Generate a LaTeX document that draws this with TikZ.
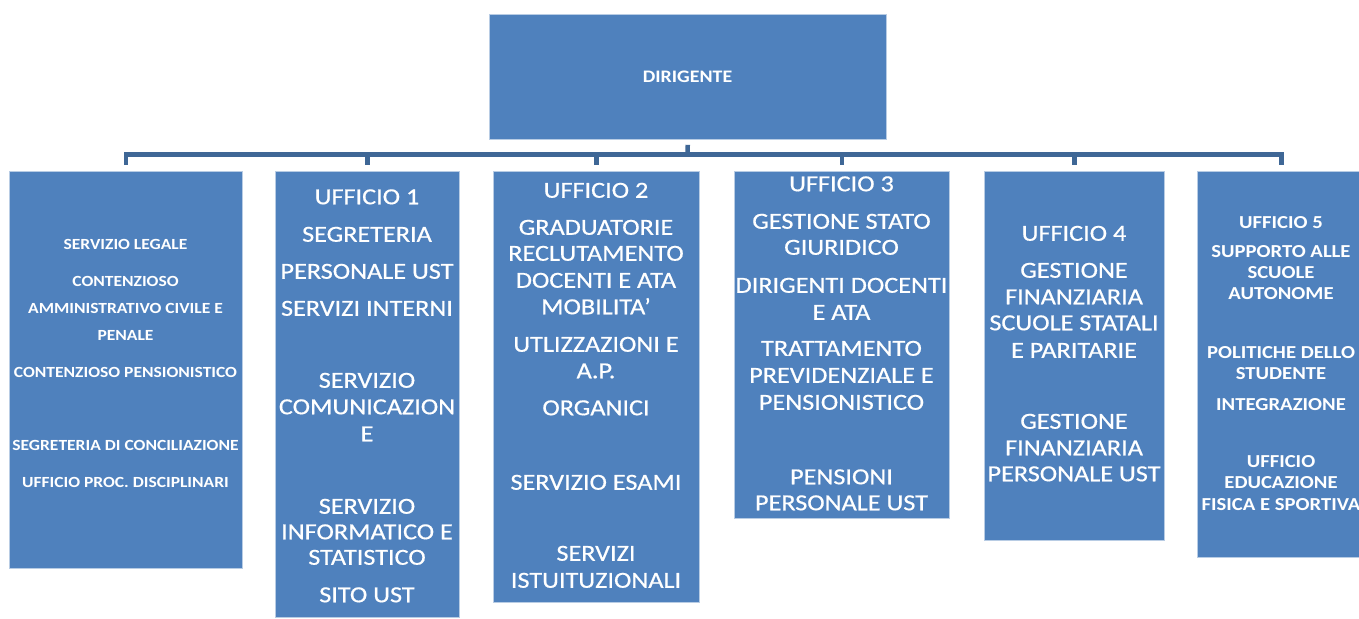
\documentclass[tikz,border=0pt]{standalone}
\usepackage{fontspec}
\newfontfamily\regfont[FakeStretch=1.14,FakeBold=0.6]{Carlito}
\newfontfamily\boldfont[FakeStretch=1.13]{Carlito Bold}
\definecolor{boxblue}{HTML}{4F81BD}
\definecolor{boxedge}{HTML}{B8CCE4}
\definecolor{connblue}{HTML}{3F6796}
\begin{document}
\begin{tikzpicture}[x=1pt,y=-1pt,
  box/.style={rectangle, fill=boxblue, draw=boxedge, line width=0.8pt, inner sep=0pt, anchor=north west},
  conn/.style={draw=connblue, line width=4.5pt},
  txt/.style={text=white, inner sep=0pt, text depth=0pt, anchor=center},
  tsmall/.style={txt, text height=9.8pt, font=\boldfont\fontsize{15.5}{18}\selectfont},
  tbig/.style={txt, text height=14.5pt, font=\regfont\fontsize{23}{27}\selectfont},
  tmid/.style={txt, text height=11.6pt, font=\boldfont\fontsize{18.3}{21}\selectfont},
  ttop/.style={txt, text height=11.1pt, font=\boldfont\fontsize{17.6}{21}\selectfont}]
\useasboundingbox (0,0) rectangle (1359,618);
\fill[white] (0,0) rectangle (1359,618);
% boxes
\node[box, minimum width=397, minimum height=125] (top) at (489,14) {};
\node[box, minimum width=233, minimum height=397] (b1) at (9,171) {};
\node[box, minimum width=184, minimum height=446] (b2) at (275,171) {};
\node[box, minimum width=206, minimum height=431] (b3) at (493,171) {};
\node[box, minimum width=215, minimum height=347] (b4) at (734,171) {};
\node[box, minimum width=180, minimum height=369] (b5) at (984,171) {};
\node[box, minimum width=168, minimum height=386] (b6) at (1197,171) {};
% connectors
\coordinate (bus) at (687.5,154.5);
\draw[conn, shorten <=5pt] (top.south) -- (bus);
\foreach \b in {b1,b2,b3,b4,b5,b6}
  \draw[conn, shorten >=6pt] (bus) -| (\b.north);
% texts
\node[ttop] (t0) at (687.5,77) {DIRIGENTE};
\foreach \y/\t [count=\i] in {244.5/SERVIZIO LEGALE, 282/CONTENZIOSO, 308.5/AMMINISTRATIVO CIVILE E, 335.5/PENALE, 373/CONTENZIOSO PENSIONISTICO, 446/SEGRETERIA DI CONCILIAZIONE, 483/UFFICIO PROC. DISCIPLINARI}
  \node[tsmall] (t1-\i) at (125.5,\y) {\t};
\foreach \y/\t [count=\i] in {197/UFFICIO 1, 234.5/SEGRETERIA, 271.5/PERSONALE UST, 308.5/SERVIZI INTERNI, 380.5/SERVIZIO, 407/COMUNICAZION, 434/E, 506.5/SERVIZIO, 532/INFORMATICO E, 557.5/STATISTICO, 595/SITO UST}
  \node[tbig] (t2-\i) at (367,\y) {\t};
\foreach \y/\t [count=\i] in {190.5/UFFICIO 2, 227.5/GRADUATORIE, 253.5/RECLUTAMENTO, 280.5/DOCENTI E ATA, 307/MOBILITA’, 344.5/UTLIZZAZIONI E, 371/A.P., 408/ORGANICI, 482.5/SERVIZIO ESAMI, 553.5/SERVIZI, 580.5/ISTUITUZIONALI}
  \node[tbig] (t3-\i) at (596,\y) {\t};
\foreach \y/\t [count=\i] in {184/UFFICIO 3, 221.5/GESTIONE STATO, 247.5/GIURIDICO, 285.5/DIRIGENTI DOCENTI, 312.5/E ATA, 348.5/TRATTAMENTO, 375.5/PREVIDENZIALE E, 402.5/PENSIONISTICO, 477/PENSIONI, 503/PERSONALE UST}
  \node[tbig] (t4-\i) at (841.5,\y) {\t};
\foreach \y/\t [count=\i] in {233.5/UFFICIO 4, 270.5/GESTIONE, 297/FINANZIARIA, 323/SCUOLE STATALI, 350.5/E PARITARIE, 421.5/GESTIONE, 448/FINANZIARIA, 474/PERSONALE UST}
  \node[tbig] (t5-\i) at (1074,\y) {\t};
\foreach \y/\t [count=\i] in {222.5/UFFICIO 5, 251.5/SUPPORTO ALLE, 272.5/SCUOLE, 294/AUTONOME, 353/POLITICHE DELLO, 374/STUDENTE, 404.5/INTEGRAZIONE, 462/UFFICIO, 483/EDUCAZIONE, 505/FISICA E SPORTIVA}
  \node[tmid] (t6-\i) at (1281,\y) {\t};
\end{tikzpicture}
\end{document}
